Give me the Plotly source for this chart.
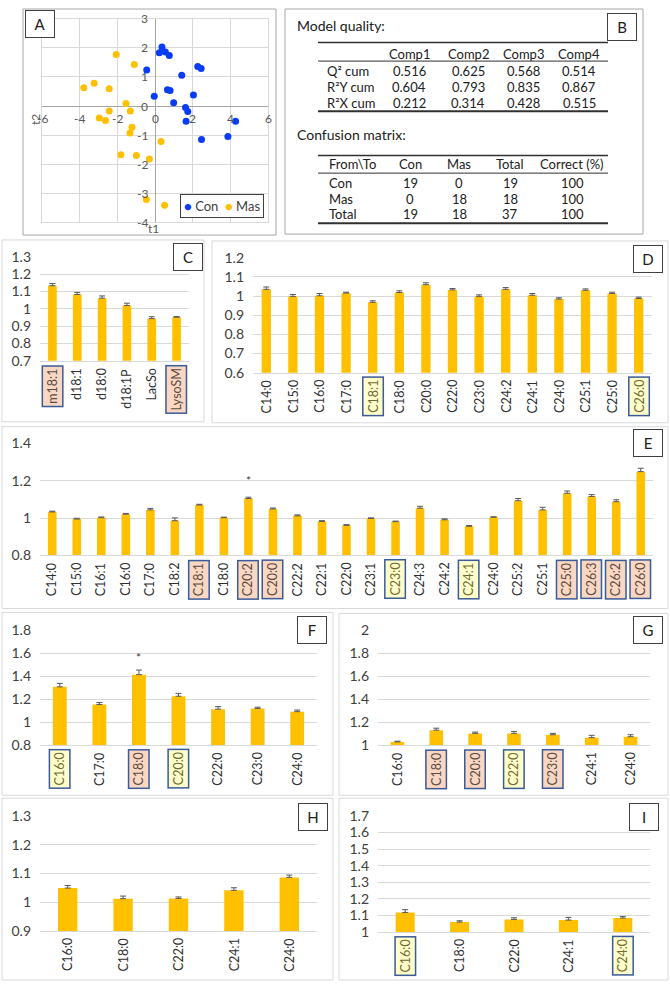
import plotly.graph_objects as go

W, H = 670, 990
FONT = "Lato"
BAR = "#FFC000"
BLUE = "#0a3cf5"
GRID = "#d9d9d9"
TXT = "#404040"
PEACH = "#F9D7C3"
YELLOW = "#FFFFCC"
HLBORDER = "#3A5A98"

# ---------------- Panel A data (PLS-DA scores) ----------------
con_t1 = [0.37, 0.23, 0.55, 0.76, -0.44, 1.42, 2.27, 2.45, 0.66, 0.80, -0.04, 2.04, 0.99, 1.62, 1.74, 1.65, 4.28, 3.87, 2.47]
con_t2 = [2.03, 1.83, 1.86, 1.74, 1.24, 1.06, 1.36, 1.29, 0.56, 0.53, 0.34, 0.38, 0.11, -0.05, -0.19, -0.52, -0.52, -1.05, -1.15]
mas_t1 = [-2.06, -1.10, -3.78, -3.23, -2.43, -1.54, -2.43, -1.31, -2.96, -2.63, -1.22, -1.33, 0.32, -1.81, -0.99, -0.30, -0.46, 0.51]
mas_t2 = [1.77, 1.43, 0.63, 0.78, 0.59, 0.09, -0.17, -0.17, -0.41, -0.50, -0.73, -0.93, -1.22, -1.68, -1.70, -1.82, -3.22, -3.41]
a_xticks = [-6, -4, -2, 0, 2, 4, 6]
a_yticks = [-4, -3, -2, -1, 0, 1, 2, 3]

# ---------------- Panel B data (tables) ----------------
comp_names = ["Comp1", "Comp2", "Comp3", "Comp4"]
quality_rows = ["Q² cum", "R²Y cum", "R²X cum"]
q2_cum = ["0.516", "0.625", "0.568", "0.514"]
r2y_cum = ["0.604", "0.793", "0.835", "0.867"]
r2x_cum = ["0.212", "0.314", "0.428", "0.515"]
conf_header = ["From\\To", "Con", "Mas", "Total", "Correct (%)"]
conf_rows = ["Con", "Mas", "Total"]
conf_con = ["19", "0", "19"]
conf_mas = ["0", "18", "18"]
conf_total = ["19", "18", "37"]
conf_correct = ["100", "100", "100"]

# ---------------- Panel C ----------------
c_cats = ["m18:1", "d18:1", "d18:0", "d18:1P", "LacSo", "LysoSM"]
c_vals = [1.133, 1.082, 1.061, 1.019, 0.943, 0.951]
c_errs = [0.012, 0.012, 0.013, 0.013, 0.011, 0.004]
c_hl = {"m18:1": "p", "LysoSM": "p"}
c_yticks = [0.7, 0.8, 0.9, 1.0, 1.1, 1.2, 1.3]

# ---------------- Panel D ----------------
d_cats = ["C14:0", "C15:0", "C16:0", "C17:0", "C18:1", "C18:0", "C20:0", "C22:0", "C23:0", "C24:2", "C24:1", "C24:0", "C25:1", "C25:0", "C26:0"]
d_vals = [1.035, 0.998, 1.001, 1.015, 0.967, 1.018, 1.059, 1.032, 0.998, 1.035, 1.004, 0.984, 1.030, 1.013, 0.987]
d_errs = [0.012, 0.010, 0.012, 0.005, 0.008, 0.009, 0.010, 0.007, 0.008, 0.009, 0.009, 0.007, 0.007, 0.007, 0.007]
d_hl = {"C18:1": "y", "C26:0": "y"}
d_yticks = [0.6, 0.7, 0.8, 0.9, 1.0, 1.1, 1.2]

# ---------------- Panel E ----------------
e_cats = ["C14:0", "C15:0", "C16:1", "C16:0", "C17:0", "C18:2", "C18:1", "C18:0", "C20:2", "C20:0", "C22:2", "C22:1", "C22:0",
          "C23:1", "C23:0", "C24:3", "C24:2", "C24:1", "C24:0", "C25:2", "C25:1", "C25:0", "C26:3", "C26:2", "C26:0"]
e_vals = [1.033, 0.995, 1.002, 1.021, 1.044, 0.986, 1.070, 1.002, 1.105, 1.049, 1.012, 0.982, 0.961,
          0.998, 0.981, 1.053, 0.991, 0.956, 1.004, 1.093, 1.044, 1.133, 1.116, 1.088, 1.249]
e_errs = [0.004, 0.004, 0.004, 0.004, 0.008, 0.015, 0.004, 0.003, 0.007, 0.005, 0.005, 0.004, 0.004,
          0.003, 0.003, 0.010, 0.005, 0.004, 0.003, 0.012, 0.014, 0.012, 0.010, 0.010, 0.018]
e_hl = {"C18:1": "p", "C20:2": "p", "C20:0": "p", "C23:0": "y", "C24:1": "y", "C25:0": "p", "C26:3": "p", "C26:2": "p", "C26:0": "p"}
e_yticks = [0.8, 1.0, 1.2, 1.4]
e_star = ("C20:2", 1.2)

# ---------------- Panel F ----------------
f_cats = ["C16:0", "C17:0", "C18:0", "C20:0", "C22:0", "C23:0", "C24:0"]
f_vals = [1.307, 1.153, 1.413, 1.225, 1.113, 1.119, 1.091]
f_errs = [0.030, 0.017, 0.040, 0.025, 0.022, 0.011, 0.014]
f_hl = {"C16:0": "y", "C18:0": "p", "C20:0": "y"}
f_yticks = [0.8, 1.0, 1.2, 1.4, 1.6, 1.8]
f_star = ("C18:0", 1.56)

# ---------------- Panel G ----------------
g_cats = ["C16:0", "C18:0", "C20:0", "C22:0", "C23:0", "C24:1", "C24:0"]
g_vals = [1.028, 1.130, 1.102, 1.102, 1.090, 1.065, 1.073]
g_errs = [0.006, 0.017, 0.011, 0.017, 0.012, 0.020, 0.017]
g_hl = {"C18:0": "p", "C20:0": "p", "C22:0": "y", "C23:0": "p"}
g_yticks = [1.0, 1.2, 1.4, 1.6, 1.8, 2.0]

# ---------------- Panel H ----------------
h_cats = ["C16:0", "C18:0", "C22:0", "C24:1", "C24:0"]
h_vals = [1.049, 1.012, 1.013, 1.041, 1.086]
h_errs = [0.009, 0.009, 0.005, 0.009, 0.008]
h_hl = {}
h_yticks = [0.9, 1.0, 1.1, 1.2, 1.3]

# ---------------- Panel I ----------------
i_cats = ["C16:0", "C18:0", "C22:0", "C24:1", "C24:0"]
i_vals = [1.117, 1.059, 1.075, 1.071, 1.083]
i_errs = [0.017, 0.008, 0.010, 0.016, 0.010]
i_hl = {"C16:0": "y", "C24:0": "y"}
i_yticks = [1.0, 1.1, 1.2, 1.3, 1.4, 1.5, 1.6, 1.7]


def px(x):
    return x / W


def py(y):
    return 1 - y / H


def ptext(x, y, text, size=13, color="#202020", xa="center", ya="middle", **kw):
    d = dict(x=px(x), y=py(y), xref="paper", yref="paper", text=text, showarrow=False,
             xanchor=xa, yanchor=ya, font=dict(size=size, color=color))
    d.update(kw)
    return d


fig = go.Figure()
layout = dict(
    width=W, height=H, autosize=False,
    margin=dict(l=0, r=0, t=0, b=0, pad=0),
    paper_bgcolor="white", plot_bgcolor="white",
    font=dict(family=FONT, size=13, color=TXT),
    showlegend=False,
)
annotations = []
shapes = []

# ---------- frames ----------
frames = [
    (23, 0, 276, 230, "#a6a6a6"),
    (285, 0, 643, 229, "#a6a6a6"),
    (2, 235, 204, 420, GRID),
    (212, 236, 668, 421, GRID),
    (2, 425, 668, 610, GRID),
    (2, 614, 333, 800, GRID),
    (339, 615, 668, 800, GRID),
    (2, 803, 333, 988, GRID),
    (339, 803, 668, 988, GRID),
]
for x0, y0, x1, y1, col in frames:
    shapes.append(dict(type="rect", xref="paper", yref="paper", x0=px(x0), x1=px(x1),
                       y0=py(y1), y1=py(y0), line=dict(color=col, width=1), fillcolor="rgba(0,0,0,0)", layer="below"))

# ---------- Panel A ----------
fig.add_trace(go.Scatter(x=con_t1, y=con_t2, mode="markers", marker=dict(color=BLUE, size=7), name="Con",
                         xaxis="x", yaxis="y"))
fig.add_trace(go.Scatter(x=mas_t1, y=mas_t2, mode="markers", marker=dict(color=BAR, size=7), name="Mas",
                         xaxis="x", yaxis="y"))
layout["xaxis"] = dict(domain=[px(42), px(268)], range=[-6, 6], tickvals=a_xticks, showticklabels=False,
                       showgrid=True, gridcolor=GRID, zeroline=True, zerolinecolor="#a6a6a6", zerolinewidth=1,
                       showline=True, mirror=True, linecolor=GRID, anchor="y", fixedrange=True)
layout["yaxis"] = dict(domain=[py(217), py(10)], range=[-4, 3], tickvals=a_yticks, showticklabels=False,
                       showgrid=True, gridcolor=GRID, zeroline=True, zerolinecolor="#a6a6a6", zerolinewidth=1,
                       showline=True, mirror=True, linecolor=GRID, anchor="x", fixedrange=True)
for v in a_xticks:
    annotations.append(dict(x=v, y=0, xref="x", yref="y", text=str(v), showarrow=False, yanchor="top",
                            xanchor="center", yshift=-3, font=dict(size=12, color="#595959")))
for v in a_yticks:
    annotations.append(dict(x=0, y=v, xref="x", yref="y", text=str(v), showarrow=False, xanchor="right",
                            yanchor="middle", xshift=-5, font=dict(size=12, color="#595959")))
annotations.append(ptext(35, 113, "t2", size=12, color="#595959", textangle=-90))
annotations.append(ptext(153, 223, "t1", size=12, color="#595959"))
annotations.append(ptext(222, 200.5,
                         f"<span style='color:{BLUE}'>●</span> Con  <span style='color:{BAR}'>●</span> Mas",
                         size=13, color=TXT, bgcolor="white", bordercolor="#404040", borderwidth=1, borderpad=3))

# ---------- Panel B ----------
annotations.append(ptext(295, 17, "Model quality:", size=14, xa="left"))
annotations.append(ptext(295, 128, "Confusion matrix:", size=14, xa="left"))
comp_x = [409, 468, 523, 579]
for cx, name in zip(comp_x, comp_names):
    annotations.append(ptext(cx, 46, name))
row_y = [63, 79, 96]
for ry, lab, vals in zip(row_y, quality_rows, [q2_cum, r2y_cum, r2x_cum]):
    annotations.append(ptext(325, ry, lab, xa="left"))
    for cx, v in zip(comp_x, vals):
        annotations.append(ptext(cx, ry, v))
for yy, lw in [(34, 1.5), (53, 1), (104, 2)]:
    shapes.append(dict(type="line", xref="paper", yref="paper", x0=px(318), x1=px(608), y0=py(yy), y1=py(yy),
                       line=dict(color="#303030", width=lw)))
conf_x = [410, 459, 510, 572]
annotations.append(ptext(327, 158, conf_header[0], xa="left"))
for cx, name in zip(conf_x, conf_header[1:]):
    annotations.append(ptext(cx, 158, name))
crow_y = [177, 193, 209]
for i, (ry, lab) in enumerate(zip(crow_y, conf_rows)):
    annotations.append(ptext(327, ry, lab, xa="left"))
    for cx, col in zip(conf_x, [conf_con, conf_mas, conf_total, conf_correct]):
        annotations.append(ptext(cx, ry, col[i]))
for yy, lw in [(149, 1.5), (167, 1), (218, 2)]:
    shapes.append(dict(type="line", xref="paper", yref="paper", x0=px(318), x1=px(608), y0=py(yy), y1=py(yy),
                       line=dict(color="#303030", width=lw)))


# ---------- bar panels ----------
def bar_panel(idx, cats, vals, errs, yticks, xpx, ypx, hl, star=None):
    xr, yr = f"x{idx}", f"y{idx}"
    fig.add_trace(go.Bar(x=cats, y=vals, width=0.35, marker=dict(color=BAR, line=dict(width=0)),
                         error_y=dict(type="data", symmetric=False, array=errs, arrayminus=[0] * len(errs),
                                      color="#595959", thickness=1, width=3),
                         xaxis=xr, yaxis=yr, showlegend=False))
    pad = (yticks[-1] - yticks[0]) * 0.0004
    layout[f"xaxis{idx}"] = dict(domain=[px(xpx[0]), px(xpx[1])], anchor=yr, type="category",
                                 showticklabels=False, showgrid=False, zeroline=False,
                                 showline=True, linecolor=GRID, linewidth=1, fixedrange=True)
    layout[f"yaxis{idx}"] = dict(domain=[py(ypx[1]), py(ypx[0])], anchor=xr,
                                 range=[yticks[0] - pad, yticks[-1] + pad],
                                 tickvals=yticks, ticktext=[f"{v:g}" for v in yticks],
                                 showgrid=True, gridcolor=GRID, gridwidth=1, zeroline=False,
                                 showline=False, ticks="", ticklabelstandoff=8,
                                 tickfont=dict(size=14, color="#404040"), fixedrange=True)
    for c in cats:
        kind = hl.get(c)
        if kind == "p":
            bg, bc, fc = PEACH, HLBORDER, "#5b4a42"
        elif kind == "y":
            bg, bc, fc = YELLOW, HLBORDER, "#6f6b32"
        else:
            bg, bc, fc = "rgba(0,0,0,0)", "rgba(0,0,0,0)", "#303030"
        annotations.append(dict(x=c, y=py(ypx[1]), xref=xr, yref="paper", text=c, textangle=-90,
                                showarrow=False, xanchor="center", yanchor="top", yshift=-4,
                                bgcolor=bg, bordercolor=bc, borderwidth=1.5, borderpad=2,
                                font=dict(size=12.5, color=fc)))
    if star is not None:
        annotations.append(dict(x=star[0], y=star[1], xref=xr, yref=yr, text="*", showarrow=False,
                                xanchor="center", yanchor="middle", font=dict(size=12, color="#404040")))


bar_panel(2, c_cats, c_vals, c_errs, c_yticks, (40, 189), (252, 358), c_hl)
bar_panel(3, d_cats, d_vals, d_errs, d_yticks, (253, 652), (253, 370), d_hl)
bar_panel(4, e_cats, e_vals, e_errs, e_yticks, (40, 653), (442, 556), e_hl, e_star)
bar_panel(5, f_cats, f_vals, f_errs, f_yticks, (40, 317), (632, 749), f_hl, f_star)
bar_panel(6, g_cats, g_vals, g_errs, g_yticks, (378, 650), (632, 749), g_hl)
bar_panel(7, h_cats, h_vals, h_errs, h_yticks, (40, 317), (821, 938), h_hl)
bar_panel(8, i_cats, i_vals, i_errs, i_yticks, (378, 650), (821, 939), i_hl)

# ---------- panel letters ----------
letters = [("A", 40, 15), ("B", 622, 18), ("C", 188, 252), ("D", 647.5, 254), ("E", 647.5, 442),
           ("F", 312, 631.5), ("G", 647.5, 631.5), ("H", 312.5, 822), ("I", 644, 822)]
for t, cx, cy in letters:
    annotations.append(ptext(cx, cy, t, size=15, width=28, height=26, bgcolor="white",
                             bordercolor="#404040", borderwidth=1, borderpad=0))

layout["annotations"] = annotations
layout["shapes"] = shapes
fig.update_layout(**layout)
fig.write_html("out.html")
